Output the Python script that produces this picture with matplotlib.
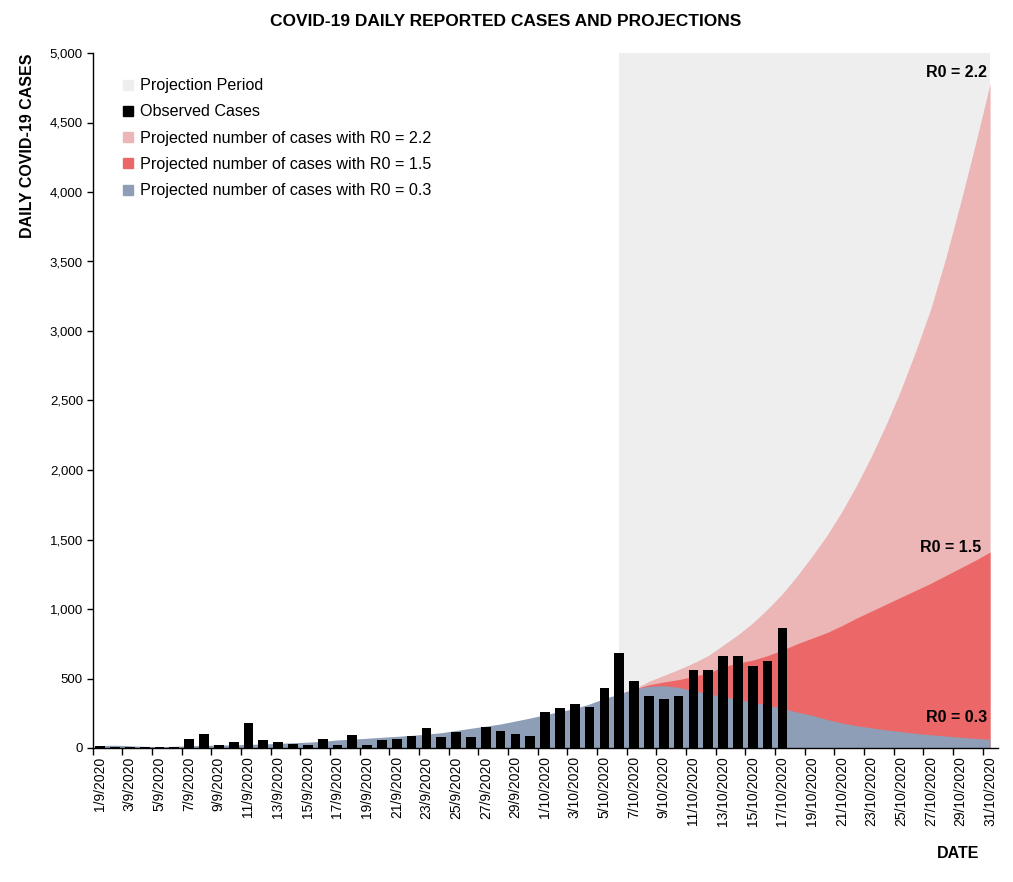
import numpy as np
import pandas as pd
import matplotlib
matplotlib.use("Agg")
import matplotlib.pyplot as plt
from matplotlib.lines import Line2D

plt.rcParams['font.family'] = ['Liberation Sans', 'DejaVu Sans']

# categories: one per day, 1/9/2020 .. 31/10/2020
dates = pd.date_range('2020-09-01', '2020-10-31', freq='D')
date_labels = [f"{d.day}/{d.month}/{d.year}" for d in dates]

# observed daily cases (1/9 .. 17/10)
observed = [12, 7, 10, 7, 7, 7, 62, 100, 19, 41,
            178, 55, 41, 29, 22, 65, 24, 96, 24, 55,
            62, 84, 146, 77, 113, 81, 153, 120, 103, 89,
            262, 289, 317, 297, 432, 684, 484, 374, 355, 374,
            561, 561, 662, 662, 590, 626, 864]

# R0 = 0.3 curve, whole period
proj_r03 = [18, 20, 16, 12, 10, 12, 16, 19, 21, 23,
            26, 29, 33, 38, 42, 48, 58, 64, 70, 77,
            84, 91, 100, 110, 126, 142, 157, 173, 194, 216,
            240, 262, 285, 317, 357, 388, 424, 444, 448, 436,
            413, 390, 370, 350, 330, 308, 285, 258, 235, 205,
            180, 160, 145, 130, 118, 105, 95, 86, 77, 69, 62]

# projection period starts on 6/10
proj_start = 35
proj_r15 = [388, 424, 455, 475, 492, 515, 540, 585, 610, 632,
            665, 705, 750, 790, 830, 880, 935, 985, 1035, 1085,
            1135, 1185, 1240, 1295, 1350, 1410]
proj_r22 = [388, 424, 480, 522, 565, 612, 665, 740, 815, 900,
            1000, 1110, 1240, 1380, 1530, 1700, 1890, 2100, 2330, 2580,
            2860, 3160, 3520, 3920, 4340, 4780]

c_period = '#EEEEEE'
c_r22 = '#EDB6B6'
c_r15 = '#EC6868'
c_r03 = '#8D9EB6'

fig = plt.figure(figsize=(10.13, 8.82), dpi=100)
ax = fig.add_axes([92.7 / 1013, 1 - 748 / 882, (997.5 - 92.7) / 1013, (748 - 53) / 882])

x_all = np.arange(len(dates))
x_proj = np.arange(proj_start, len(dates))

ax.fill_between(x_proj, 0, 5000, color=c_period, lw=0, zorder=1)
ax.fill_between(x_proj, 0, proj_r22, color=c_r22, lw=0, zorder=2)
ax.fill_between(x_proj, 0, proj_r15, color=c_r15, lw=0, zorder=3)
ax.fill_between(x_all, 0, proj_r03, color=c_r03, lw=0, zorder=4)
ax.bar(np.arange(len(observed)), observed, width=0.66, color='black', zorder=5)

ax.set_xlim(-0.5, len(dates) - 0.5)
ax.set_ylim(0, 5000)
ax.set_yticks(np.arange(0, 5001, 500))
ax.set_yticklabels([f"{v:,}" for v in range(0, 5001, 500)], fontsize=9.5)
ax.tick_params(axis='y', direction='out', length=4, width=1, pad=3)

ax.set_xticks(x_all[::2])
ax.set_xticklabels(date_labels[::2], rotation=90, fontsize=10)
ax.set_xticks(np.arange(-0.5, len(dates) - 1, 2), minor=True)
ax.tick_params(axis='x', which='major', length=0, pad=6)
ax.tick_params(axis='x', which='minor', direction='out', length=5, width=1)

for s in ['top', 'right']:
    ax.spines[s].set_visible(False)
for s in ['left', 'bottom']:
    ax.spines[s].set_color('black')
    ax.spines[s].set_linewidth(1)
ax.spines['bottom'].set_zorder(6)

handles = [Line2D([], [], marker='s', ls='', color=c, markersize=7)
           for c in [c_period, 'black', c_r22, c_r15, c_r03]]
labels = ['Projection Period', 'Observed Cases',
          'Projected number of cases with R0 = 2.2',
          'Projected number of cases with R0 = 1.5',
          'Projected number of cases with R0 = 0.3']
ax.legend(handles, labels, loc='upper left', bbox_to_anchor=(0.027, 0.973),
          frameon=False, fontsize=11.6, handlelength=0.6, handletextpad=0.4,
          labelspacing=0.7, borderaxespad=0)

fig.text(506 / 1013, 1 - 21 / 882, 'COVID-19 DAILY REPORTED CASES AND PROJECTIONS',
         ha='center', va='center', fontsize=12.5, fontweight='bold')
fig.text(28 / 1013, 1 - 54 / 882, 'DAILY COVID-19 CASES', rotation=90,
         ha='center', va='top', fontsize=11.5, fontweight='bold')
fig.text(958 / 1013, 1 - 854 / 882, 'DATE', ha='center', va='center',
         fontsize=11.5, fontweight='bold')

ax.text(len(dates) - 1.2, 4860, 'R0 = 2.2', ha='right', va='center',
        fontsize=11.5, fontweight='bold', zorder=7)
ax.text(len(dates) - 1.6, 1440, 'R0 = 1.5', ha='right', va='center',
        fontsize=11.5, fontweight='bold', zorder=7)
ax.text(len(dates) - 1.2, 216, 'R0 = 0.3', ha='right', va='center',
        fontsize=11.5, fontweight='bold', zorder=7)

fig.savefig('out.png', dpi=100)
